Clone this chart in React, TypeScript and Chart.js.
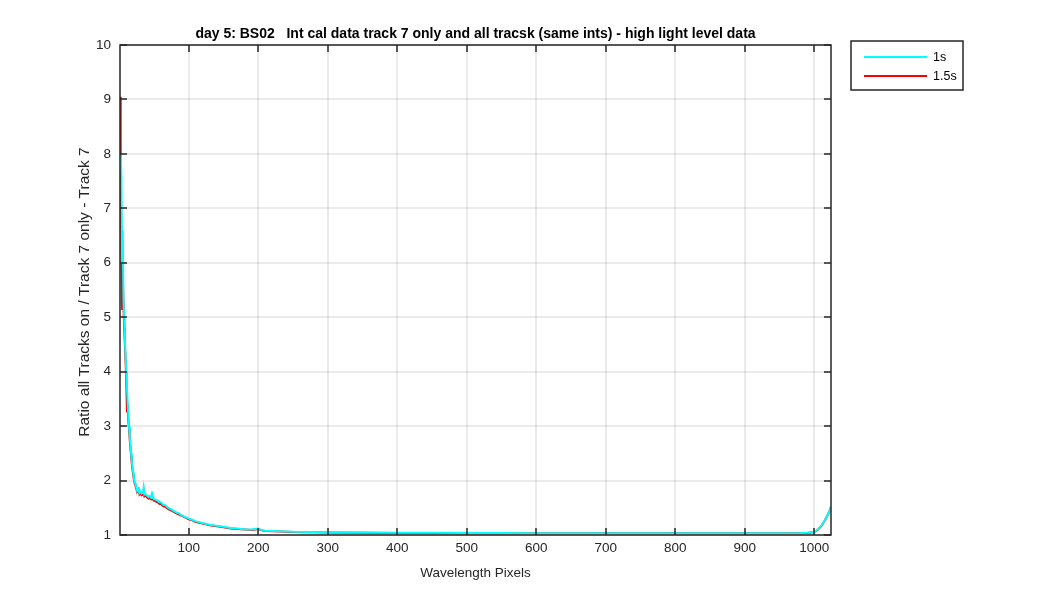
import React, { useEffect, useRef } from "react";
import { Chart, registerables } from "chart.js";

Chart.register(...registerables);

const TITLE = "day 5: BS02   Int cal data track 7 only and all tracsk (same ints) - high light level data";
const X_LABEL = "Wavelength Pixels";
const Y_LABEL = "Ratio all Tracks on / Track 7 only - Track 7";
const SERIES_NAMES = ["1s", "1.5s"];
const SERIES_COLORS = ["#00FFFF", "#FF0000"];

const X_TICKS = [100, 200, 300, 400, 500, 600, 700, 800, 900, 1000];
const Y_TICKS = [1, 2, 3, 4, 5, 6, 7, 8, 9, 10];

const wavelength = [
  1, 2, 3, 4, 5, 6, 7, 8, 9, 10, 11, 12, 13, 14, 15, 16, 17, 18, 19, 20, 21, 22, 23, 24, 25, 26, 27, 28, 29, 30,
  32, 34, 35, 36, 38, 40, 42, 44, 46, 47, 48, 50, 52, 55, 58, 60, 63, 66, 70,
  75, 80, 85, 90, 95, 100, 105, 110,
  120, 130, 140, 150, 160, 170, 180, 190, 200,
  205, 210, 230, 250, 275, 300,
  350, 400, 450, 500, 550, 600, 650, 700, 750, 800, 850, 900, 950,
  980, 990, 1000, 1005, 1010, 1015, 1020, 1024,
];

const ratio1s = [
  7.9, 8.0, 7.6, 6.0, 6.6, 5.3, 5.0, 4.6, 4.3, 4.0, 3.7, 3.45, 3.2, 3.0, 2.8, 2.65, 2.5, 2.35, 2.25, 2.15, 2.05, 1.98, 1.95, 1.9, 1.85, 1.83, 1.8, 1.88, 1.78, 1.8,
  1.76, 1.78, 1.87, 1.74, 1.75, 1.72, 1.7, 1.72, 1.68, 1.8, 1.7, 1.66, 1.65, 1.63, 1.6, 1.6, 1.56, 1.55, 1.5,
  1.47, 1.43, 1.4, 1.36, 1.33, 1.3, 1.28, 1.25,
  1.22, 1.19, 1.17, 1.15, 1.13, 1.12, 1.1, 1.1, 1.12,
  1.09, 1.08, 1.07, 1.06, 1.055, 1.05,
  1.045, 1.04, 1.04, 1.035, 1.035, 1.03, 1.03, 1.03, 1.03, 1.03, 1.03, 1.03, 1.03,
  1.035, 1.04, 1.06, 1.1, 1.17, 1.27, 1.39, 1.52,
];

const ratio15s = [
  9.05, 7.95, 6.2, 5.15, 5.9, 5.2, 4.8, 4.5, 4.2, 3.8, 3.25, 3.4, 3.1, 2.95, 2.75, 2.6, 2.45, 2.3, 2.2, 2.1, 2.02, 1.95, 1.92, 1.87, 1.83, 1.8, 1.78, 1.84, 1.75, 1.77,
  1.73, 1.74, 1.82, 1.71, 1.72, 1.69, 1.67, 1.68, 1.65, 1.74, 1.67, 1.63, 1.62, 1.6, 1.57, 1.57, 1.53, 1.52, 1.48,
  1.45, 1.41, 1.38, 1.35, 1.32, 1.29, 1.27, 1.24,
  1.21, 1.18, 1.16, 1.14, 1.12, 1.11, 1.1, 1.09, 1.11,
  1.085, 1.075, 1.065, 1.055, 1.05, 1.045,
  1.04, 1.035, 1.035, 1.03, 1.03, 1.03, 1.03, 1.03, 1.03, 1.03, 1.03, 1.03, 1.03,
  1.03, 1.035, 1.055, 1.095, 1.165, 1.265, 1.385, 1.515,
];

const FONT = "'Liberation Sans', Arial, Helvetica, sans-serif";
const TEXT_COLOR = "#262626";

const decorPlugin = {
  id: "matlabDecor",
  afterDraw(chart: any) {
    const { ctx, chartArea } = chart;
    const { left, right, top, bottom } = chartArea;
    const xs = chart.scales.x;
    const ys = chart.scales.y;
    ctx.save();
    // box
    ctx.strokeStyle = TEXT_COLOR;
    ctx.lineWidth = 1.5;
    ctx.strokeRect(Math.round(left), Math.round(top), Math.round(right - left), Math.round(bottom - top));
    // inward ticks
    const tl = 7;
    ctx.lineWidth = 1.5;
    ctx.beginPath();
    X_TICKS.forEach((v) => {
      const px = Math.round(xs.getPixelForValue(v));
      ctx.moveTo(px, bottom);
      ctx.lineTo(px, bottom - tl);
      ctx.moveTo(px, top);
      ctx.lineTo(px, top + tl);
    });
    Y_TICKS.forEach((v) => {
      const py = Math.round(ys.getPixelForValue(v));
      ctx.moveTo(left, py);
      ctx.lineTo(left + tl, py);
      ctx.moveTo(right, py);
      ctx.lineTo(right - tl, py);
    });
    ctx.stroke();
    // title
    ctx.fillStyle = "#000";
    ctx.font = `bold 14px ${FONT}`;
    ctx.textAlign = "center";
    ctx.textBaseline = "alphabetic";
    ctx.fillText(TITLE, (left + right) / 2, 38);
    // axis labels
    ctx.fillStyle = TEXT_COLOR;
    ctx.font = `13.5px ${FONT}`;
    ctx.fillText(X_LABEL, (left + right) / 2, 577);
    ctx.save();
    ctx.translate(89, 292);
    ctx.rotate(-Math.PI / 2);
    ctx.font = `15.5px ${FONT}`;
    ctx.fillText(Y_LABEL, 0, 0);
    ctx.restore();
    // legend
    const lx = 851, ly = 41, lw = 112, lh = 49;
    ctx.fillStyle = "#fff";
    ctx.fillRect(lx, ly, lw, lh);
    ctx.strokeStyle = TEXT_COLOR;
    ctx.lineWidth = 1.5;
    ctx.strokeRect(lx, ly, lw, lh);
    SERIES_NAMES.forEach((name, i) => {
      const yy = 57 + i * 19;
      ctx.strokeStyle = SERIES_COLORS[i];
      ctx.lineWidth = 2;
      ctx.beginPath();
      ctx.moveTo(864, yy);
      ctx.lineTo(927, yy);
      ctx.stroke();
      ctx.fillStyle = "#000";
      ctx.font = `12.5px ${FONT}`;
      ctx.textAlign = "left";
      ctx.textBaseline = "middle";
      ctx.fillText(name, 933, yy + 1);
    });
    ctx.restore();
  },
};

export default function App() {
  const ref = useRef<HTMLCanvasElement>(null);
  useEffect(() => {
    if (!ref.current) return;
    const datasets = [ratio1s, ratio15s].map((vals, i) => ({
      label: SERIES_NAMES[i],
      data: wavelength.map((w, j) => ({ x: w, y: vals[j] })),
      borderColor: SERIES_COLORS[i],
      backgroundColor: SERIES_COLORS[i],
      borderWidth: 2,
      pointRadius: 0,
      tension: 0,
      fill: false,
    }));
    const chart = new Chart(ref.current, {
      type: "line",
      data: { datasets },
      options: {
        animation: false,
        responsive: false,
        maintainAspectRatio: false,
        layout: { padding: { left: 0, top: 45, right: 219, bottom: 0 } },
        plugins: { legend: { display: false }, tooltip: { enabled: false }, title: { display: false } },
        scales: {
          x: {
            type: "linear",
            min: 1,
            max: 1024,
            afterBuildTicks: (s: any) => {
              s.ticks = X_TICKS.map((v) => ({ value: v }));
            },
            afterFit: (s: any) => {
              s.height = 65;
            },
            grid: { color: "rgba(0,0,0,0.08)", lineWidth: 2, drawTicks: false },
            border: { display: false },
            ticks: {
              color: TEXT_COLOR,
              font: { family: FONT, size: 13.5 },
              padding: 5,
              maxRotation: 0,
              autoSkip: false,
              callback: (v: any) => String(v),
            },
          },
          y: {
            type: "linear",
            min: 1,
            max: 10,
            afterBuildTicks: (s: any) => {
              s.ticks = Y_TICKS.map((v) => ({ value: v }));
            },
            afterFit: (s: any) => {
              s.width = 120;
            },
            grid: { color: "rgba(0,0,0,0.08)", lineWidth: 2, drawTicks: false },
            border: { display: false },
            ticks: {
              color: TEXT_COLOR,
              font: { family: FONT, size: 13.5 },
              padding: 9,
              autoSkip: false,
              callback: (v: any) => String(v),
            },
          },
        },
      },
      plugins: [decorPlugin],
    });
    return () => chart.destroy();
  }, []);
  return (
    <div style={{ position: "fixed", left: 0, top: 0, width: 1050, height: 600, background: "#fff" }}>
      <canvas ref={ref} width={1050} height={600} style={{ width: 1050, height: 600 }} />
    </div>
  );
}
